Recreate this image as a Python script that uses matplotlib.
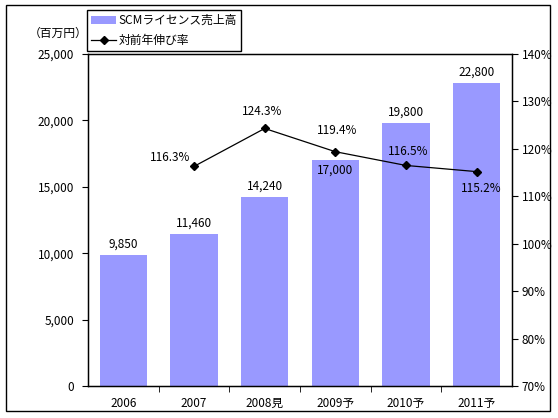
import matplotlib
matplotlib.use("Agg")
import matplotlib.pyplot as plt
import numpy as np
from matplotlib.patches import Rectangle

plt.rcParams['font.family'] = ['Noto Sans CJK JP', 'DejaVu Sans']

categories = ['2006', '2007', '2008見', '2009予', '2010予', '2011予']
sales = [9850, 11460, 14240, 17000, 19800, 22800]
growth_years = ['2007', '2008見', '2009予', '2010予', '2011予']
growth = [116.3, 124.3, 119.4, 116.5, 115.2]
sales_labels = ['9,850', '11,460', '14,240', '17,000', '19,800', '22,800']
growth_labels = ['116.3%', '124.3%', '119.4%', '116.5%', '115.2%']

W, H = 558, 418
fig = plt.figure(figsize=(W / 100, H / 100), dpi=100)
fig.patch.set_facecolor('white')

# outer border
fig.add_artist(Rectangle((6 / W, 1 - 411 / H), (550 - 6) / W, (411 - 5) / H,
                         transform=fig.transFigure, fill=False, edgecolor='black', lw=1.0))

left, right, top, bottom = 88, 512, 54, 386
ax = fig.add_axes([left / W, 1 - bottom / H, (right - left) / W, (bottom - top) / H])
x = np.arange(len(categories))
bars = ax.bar(x, sales, width=0.67, color='#9999FF', label='SCMライセンス売上高', zorder=2)
ax.set_xlim(-0.5, len(categories) - 0.5)
ax.set_ylim(0, 25000)
ax.set_yticks(np.arange(0, 25001, 5000))
ax.set_yticklabels([f'{v:,}' for v in range(0, 25001, 5000)], fontsize=8.5)
ax.set_xticks(x)
ax.set_xticklabels(categories, fontsize=8.5)
ax.set_xticks(np.arange(0.5, len(categories) - 1, 1), minor=True)
ax.tick_params(axis='x', which='major', length=0, pad=8)
ax.tick_params(axis='x', which='minor', length=4, direction='out')
ax.tick_params(axis='y', length=4, direction='out', pad=6)
for s in ax.spines.values():
    s.set_linewidth(1.0)

# bar value labels
for i, (v, lab) in enumerate(zip(sales, sales_labels)):
    dy = -7 if i == 3 else 8
    ax.annotate(lab, (x[i], v), xytext=(0, dy), textcoords='offset points',
                ha='center', va='center', fontsize=8.5)

ax2 = ax.twinx()
gx = [categories.index(c) for c in growth_years]
line, = ax2.plot(gx, growth, color='black', lw=0.9, marker='D', markersize=4.5,
                 label='対前年伸び率', zorder=3)
ax2.set_ylim(70, 140)
ax2.set_yticks(np.arange(70, 141, 10))
ax2.set_yticklabels([f'{v}%' for v in range(70, 141, 10)], fontsize=8.5)
ax2.tick_params(axis='y', length=4, direction='out', pad=3)

offsets = [(-17.5, 6.5), (-2, 12), (1.5, 15), (1.5, 10), (3.5, -12)]
for xi, v, lab, off in zip(gx, growth, growth_labels, offsets):
    ax2.annotate(lab, (xi, v), xytext=off, textcoords='offset points',
                 ha='center', va='center', fontsize=8.5)

# unit label
fig.text(58 / W, 1 - 33 / H, '（百万円）', ha='center', va='center', fontsize=8.5)

# legend
leg = fig.legend(handles=[bars, line], loc='upper left',
                 bbox_to_anchor=(87 / W, 1 - 10 / H), fontsize=8.5,
                 frameon=True, fancybox=False, edgecolor='black', framealpha=1,
                 borderpad=0.35, labelspacing=0.6, handlelength=2.1, handletextpad=0.2,
                 borderaxespad=0)
leg.get_frame().set_linewidth(1.0)

fig.savefig('out.png', dpi=100)
